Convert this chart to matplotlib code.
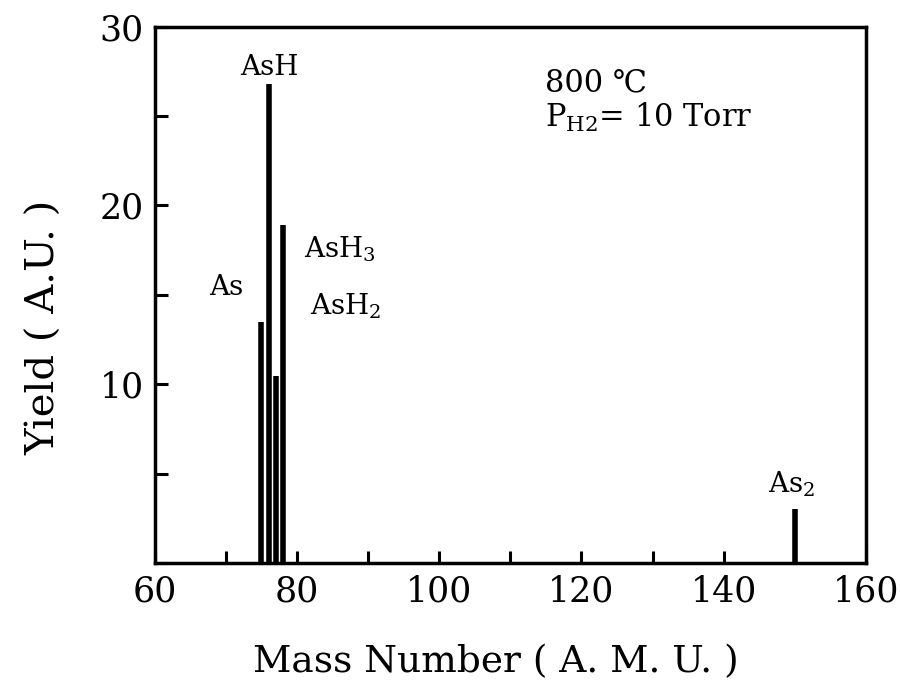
import matplotlib.pyplot as plt
from matplotlib.ticker import MultipleLocator

# mass spectrum peaks
mass = [75, 76, 77, 78, 150]
yld = [13.5, 26.8, 10.45, 18.9, 3.0]
names = ['As', 'AsH', r'AsH$_2$', r'AsH$_3$', r'As$_2$']
# label anchor (left edge, baseline) in data coords
lab_x = [67.7, 72.0, 81.8, 81.0, 146.2]
lab_y = [15.0, 27.3, 13.9, 17.1, 3.95]

plt.rcParams['font.family'] = ['DejaVu Serif', 'DejaVu Sans']
plt.rcParams['mathtext.fontset'] = 'dejavuserif'

fig = plt.figure(figsize=(9, 6.84), dpi=100)
ax = fig.add_axes([0.172, 0.177, 0.79, 0.784])

ax.vlines(mass, 0, yld, color='black', linewidth=4)
for x, y, s in zip(lab_x, lab_y, names):
    ax.text(x, y, s, ha='left', va='baseline', fontsize=20)

ax.text(0.549, 0.880, '800 ℃', transform=ax.transAxes, fontsize=22, va='baseline')
ax.text(0.549, 0.813, r'P$_{\mathregular{H2}}$= 10 Torr', transform=ax.transAxes,
        fontsize=22, va='baseline')

ax.set_xlim(60, 160)
ax.set_ylim(0, 30)
ax.xaxis.set_major_locator(MultipleLocator(20))
ax.xaxis.set_minor_locator(MultipleLocator(10))
ax.yaxis.set_major_locator(MultipleLocator(10))
ax.yaxis.set_minor_locator(MultipleLocator(5))
ax.set_yticks([10, 20, 30])
ax.tick_params(which='both', direction='in', top=False, right=False, width=2.2,
               length=9, labelsize=25)
ax.tick_params(which='major', pad=8)
for sp in ax.spines.values():
    sp.set_linewidth(2.5)

ax.set_xlabel('Mass Number ( A. M. U. )', fontsize=27, labelpad=26)
ax.set_ylabel('Yield ( A.U. )', fontsize=29, labelpad=26)
ax.xaxis.label.set_x(0.48)
ax.yaxis.label.set_y(0.44)

fig.savefig('out.png', dpi=100)
